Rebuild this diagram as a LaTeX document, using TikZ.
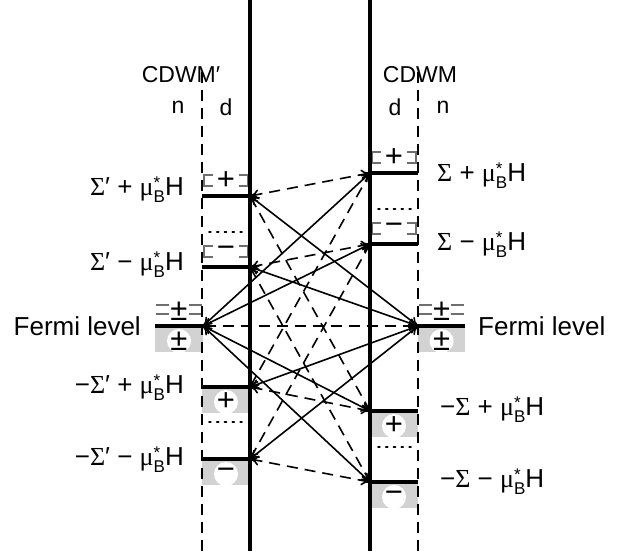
\documentclass[tikz,border=0pt]{standalone}
\usepackage{fontspec}
\setmainfont{Liberation Sans}
\newfontfamily\sigfont{Liberation Serif}
\usetikzlibrary{arrows.meta}
\definecolor{lvgray}{HTML}{D2D2D2}
\definecolor{spgray}{HTML}{6E6E6E}
\newcommand{\subsz}{\fontsize{17}{17}\selectfont}
\newcommand{\sg}{{\sigfont Σ}}
\newcommand{\muBH}{{\sigfont μ}\rlap{\raisebox{0.5ex}{\subsz*}}\raisebox{-0.5ex}{\subsz B}H}
\tikzset{
  wallLine/.style={line width=4pt},
  levelLine/.style={line width=4.5pt},
  sideLine/.style={line width=1.8pt, dash pattern=on 11pt off 7pt},
  dotLine/.style={line width=1.8pt, dash pattern=on 1.8pt off 6pt, line cap=round},
  bracketLine/.style={spgray, line width=1.3pt},
  sameArrow/.style={{To[length=9pt,width=10pt]}-{To[length=9pt,width=10pt]}, line width=1.6pt},
  flipArrow/.style={sameArrow, dash pattern=on 11pt off 7pt},
  levelLabel/.style={font=\fontsize{26}{28}\selectfont, inner sep=0pt},
  headLabel/.style={font=\fontsize{23}{26}\selectfont, inner sep=0pt},
  signLabel/.style={font=\fontsize{31}{31}\selectfont, inner sep=0pt}
}

\begin{document}
\begin{tikzpicture}[x=1pt,y=-1pt]
  \useasboundingbox (0,0) rectangle (620,551);
  % level end points
  \coordinate (L1) at (250,196);
  \coordinate (L2) at (250,267);
  \coordinate (L3) at (250,387);
  \coordinate (L4) at (250,459);
  \coordinate (R1) at (370,173);
  \coordinate (R2) at (370,244);
  \coordinate (R3) at (370,411);
  \coordinate (R4) at (370,482);
  \coordinate (LF) at (203,326);
  \coordinate (RF) at (418,326);
  % filled (hole) levels
  \foreach \a/\b/\y/\s/\nm in {202/250/387/+/hl3,202/250/459/{\raisebox{1pt}{−}}/hl4,370/418/411/+/hr3,370/418/482/{\raisebox{1pt}{−}}/hr4,155/203/326/±/hlf,418/465/326/±/hrf}
  {
    \fill[lvgray] (\a,\y) rectangle (\b,\y+26);
    \fill[white] ({(\a+\b)/2},\y+15) circle (12);
    \node[signLabel] (\nm) at ({(\a+\b)/2},\y+15) {\s};
  }
  % empty levels with spin marks
  \foreach \a/\b/\y/\s/\nm in {202/250/196/+/sl1,202/250/267/−/sl2,370/418/173/+/sr1,370/418/244/−/sr2}
  {
    \draw[bracketLine] (\a+11,\y-21) -- (\a+2,\y-21) -- (\a+2,\y-10) -- (\a+11,\y-10);
    \draw[bracketLine] (\b-11,\y-21) -- (\b-2,\y-21) -- (\b-2,\y-10) -- (\b-11,\y-10);
    \node[signLabel] (\nm) at ({(\a+\b)/2},\y-15) {\s};
  }
  \foreach \a/\b/\nm in {155/203/slf,418/465/srf}
  {
    \draw[bracketLine] (\a+1,326-21) -- (\a+14,326-21) (\a+1,326-12) -- (\a+14,326-12);
    \draw[bracketLine] (\b-14,326-21) -- (\b-1,326-21) (\b-14,326-12) -- (\b-1,326-12);
    \node[signLabel] (\nm) at ({(\a+\b)/2},326-15) {±};
  }
  % transitions
  \foreach \p/\q in {L1/R1,L2/R2,L3/R3,L4/R4,L1/R3,L2/R4,L3/R1,L4/R2,LF/RF}
    \draw[flipArrow] (\p) -- (\q);
  \foreach \p/\q in {LF/R1,LF/R2,LF/R3,LF/R4,RF/L1,RF/L2,RF/L3,RF/L4}
    \draw[sameArrow] (\p) -- (\q);
  % walls and dashed n|d borders
  \draw[wallLine] (250,0) -- (250,551);
  \draw[wallLine] (370,0) -- (370,551);
  \draw[sideLine] (202,72) -- (202,551);
  \draw[sideLine] (418,72) -- (418,551);
  % level bars
  \foreach \a/\b/\y in {202/250/196,202/250/267,202/250/387,202/250/459,370/418/173,370/418/244,370/418/411,370/418/482,155/203/326,418/465/326}
    \draw[levelLine] (\a,\y) -- (\b,\y);
  % dots between the split levels
  \draw[dotLine] (209,232) -- (246,232);
  \draw[dotLine] (209,422) -- (246,422);
  \draw[dotLine] (378,209) -- (413,209);
  \draw[dotLine] (378,447) -- (413,447);
  % headings
  \node[headLabel] (cdwmL) at (181,75) {CDWM′};
  \node[headLabel] (cdwmR) at (420,75) {CDWM};
  \node[headLabel] (nL) at (178,107) {n};
  \node[headLabel] (dL) at (226,107) {d};
  \node[headLabel] (dR) at (395,107) {d};
  \node[headLabel] (nR) at (443,107) {n};
  % level labels
  \node[levelLabel, anchor=east] (tl1) at (184,190) {\sg′ + \muBH};
  \node[levelLabel, anchor=east] (tl2) at (184,265) {\sg′ − \muBH};
  \node[levelLabel, anchor=east] (tlf) at (141,326) {Fermi level};
  \node[levelLabel, anchor=east] (tl3) at (184,388) {−\sg′ + \muBH};
  \node[levelLabel, anchor=east] (tl4) at (184,460) {−\sg′ − \muBH};
  \node[levelLabel, anchor=west] (tr1) at (437,176) {\sg{} + \muBH};
  \node[levelLabel, anchor=west] (tr2) at (437,245) {\sg{} − \muBH};
  \node[levelLabel, anchor=west] (trf) at (478,326) {Fermi level};
  \node[levelLabel, anchor=west] (tr3) at (440,410) {−\sg{} + \muBH};
  \node[levelLabel, anchor=west] (tr4) at (440,482) {−\sg{} − \muBH};
\end{tikzpicture}
\end{document}
